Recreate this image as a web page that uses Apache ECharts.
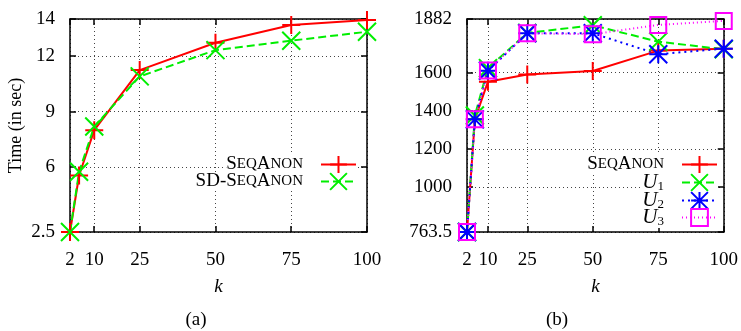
<!DOCTYPE html>
<html>
<head>
<meta charset="utf-8">
<script src="https://cdn.jsdelivr.net/npm/echarts@6/dist/echarts.min.js"></script>
<style>
  html, body { margin: 0; padding: 0; background: #fff; }
  #chart { width: 741px; height: 331px; }
</style>
</head>
<body>
<div id="chart"></div>
<script>
// k values shared by both panels
var kValues = [2, 5, 10, 25, 50, 75, 100]
var kTicks = [2, 10, 25, 50, 75, 100]

// (a) running time in seconds
var timeSeqAnon = [2.5, 5.55, 8.0, 11.24, 12.72, 13.68, 13.95]
var timeSdSeqAnon = [2.5, 5.75, 8.2, 10.9, 12.32, 12.83, 13.31]
var timeTicks = [2.5, 6, 9, 12, 14]

// (b) utility values
var valSeqAnon = [763.5, 1355, 1553, 1591, 1609, 1716, 1726]
var valU1 = [763.5, 1375, 1624, 1809, 1849, 1763, 1723]
var valU2 = [763.5, 1355, 1610, 1807, 1807, 1697, 1726]
var valU3 = [763.5, 1355, 1612, 1807, 1802, 1851, 1872]
var valTicks = [763.5, 1000, 1200, 1400, 1600, 1882]

var serif = 'Liberation Serif'
var chart = echarts.init(document.getElementById('chart'))

var gridLine = { color: '#444', width: 1, type: [1, 3] }
var symPlus = 'path://M5,0L5,10M0,5L10,5'
var symCross = 'path://M0,0L10,10M10,0L0,10'
var symStar = 'path://M5,0L5,10M0,5L10,5M0,0L10,10M10,0L0,10'

function plain(v) { return String(v) }

function xAxis(gi, pos, main) {
  return {
    type: 'value', gridIndex: gi, position: pos, min: 2, max: 100,
    name: main ? 'k' : '', nameLocation: 'middle', nameGap: 45,
    nameTextStyle: { fontFamily: serif, fontStyle: 'italic', fontSize: 19, color: '#000' },
    axisLine: { show: true, onZero: false, lineStyle: { color: '#000', width: 1.5 } },
    axisTick: { show: true, inside: true, length: 6, customValues: kTicks, lineStyle: { color: '#000', width: 1.5 } },
    axisLabel: { show: main, customValues: kTicks, margin: 19, formatter: plain, color: '#000', fontFamily: serif, fontSize: 19 },
    splitLine: { show: main, lineStyle: gridLine }
  }
}

function yAxis(gi, pos, main, min, max, ticks, name) {
  return {
    type: 'value', gridIndex: gi, position: pos, min: min, max: max,
    name: name || '', nameLocation: 'middle', nameGap: 45,
    nameTextStyle: { fontFamily: serif, fontSize: 18, color: '#000' },
    axisLine: { show: true, onZero: false, lineStyle: { color: '#000', width: 1.5 } },
    axisTick: { show: true, inside: true, length: 6, customValues: ticks, lineStyle: { color: '#000', width: 1.5 } },
    axisLabel: { show: main, customValues: ticks, margin: 15, formatter: plain, color: '#000', fontFamily: serif, fontSize: 19 },
    splitLine: { show: main, lineStyle: gridLine }
  }
}

function lineSeries(name, idx, vals, color, dash, symbol, size) {
  return {
    name: name, type: 'line', xAxisIndex: idx, yAxisIndex: idx,
    data: kValues.map(function (k, i) { return [k, vals[i]] }),
    symbol: symbol, symbolSize: size, showSymbol: true, clip: false,
    lineStyle: { color: color, width: 2, type: dash },
    itemStyle: { color: 'rgba(0,0,0,0)', borderColor: color, borderWidth: 2 },
    emphasis: { disabled: true }
  }
}

var rich = {
  b: { fontFamily: serif, fontSize: 19, color: '#000' },
  s: { fontFamily: serif, fontSize: 15, color: '#000' },
  u: { fontFamily: serif, fontSize: 21, fontStyle: 'italic', color: '#000' },
  sub: { fontFamily: serif, fontSize: 13, color: '#000', padding: [8, 0, 0, 0] }
}
var labels = {
  'SeqAnon a': '{b|S}{s|EQ}{b|A}{s|NON}',
  'SD-SeqAnon': '{b|SD-S}{s|EQ}{b|A}{s|NON}',
  'SeqAnon b': '{b|S}{s|EQ}{b|A}{s|NON}',
  'U1': '{u|U}{sub|1}',
  'U2': '{u|U}{sub|2}',
  'U3': '{u|U}{sub|3}'
}

function legendRow(name, right, top) {
  return {
    data: [name], right: right, top: top, align: 'right', orient: 'horizontal',
    itemWidth: 35, itemHeight: 21, padding: 0, backgroundColor: '#fff',
    selectedMode: false,
    formatter: function (n) { return labels[n] },
    textStyle: { rich: rich, padding: [0, 13, 0, 0] }
  }
}

var option = {
  animation: false,
  backgroundColor: '#fff',
  grid: [
    { left: 70, right: 374, top: 19, height: 213 },
    { left: 467, right: 13, top: 19, height: 213 }
  ],
  xAxis: [
    xAxis(0, 'bottom', true), xAxis(0, 'top', false),
    xAxis(1, 'bottom', true), xAxis(1, 'top', false)
  ],
  yAxis: [
    yAxis(0, 'left', true, 2.5, 14, timeTicks, 'Time (in sec)'), yAxis(0, 'right', false, 2.5, 14, timeTicks),
    yAxis(1, 'left', true, 763.5, 1882, valTicks), yAxis(1, 'right', false, 763.5, 1882, valTicks)
  ],
  legend: [
    legendRow('SeqAnon a', 384, 155),
    legendRow('SD-SeqAnon', 384, 172),
    legendRow('SeqAnon b', 23, 155),
    legendRow('U1', 23, 172),
    legendRow('U2', 23, 190),
    legendRow('U3', 23, 207)
  ],
  series: [
    lineSeries('SeqAnon a', 0, timeSeqAnon, '#ff0000', 'solid', symPlus, 18),
    lineSeries('SD-SeqAnon', 0, timeSdSeqAnon, '#00ee00', [8, 4], symCross, 18),
    lineSeries('SeqAnon b', 2, valSeqAnon, '#ff0000', 'solid', symPlus, 18),
    lineSeries('U1', 2, valU1, '#00ee00', [8, 4], symCross, 18),
    lineSeries('U2', 2, valU2, '#0000ff', [2, 4], symStar, 18),
    lineSeries('U3', 2, valU3, '#ff00ff', [1, 3], 'rect', 16)
  ],
  graphic: [
    { type: 'text', x: 196, y: 320, style: { text: '(a)', font: '19px "Liberation Serif"', fill: '#000', align: 'center', verticalAlign: 'middle' } },
    { type: 'text', x: 557, y: 320, style: { text: '(b)', font: '19px "Liberation Serif"', fill: '#000', align: 'center', verticalAlign: 'middle' } }
  ]
}

chart.setOption(option)
</script>
</body>
</html>
